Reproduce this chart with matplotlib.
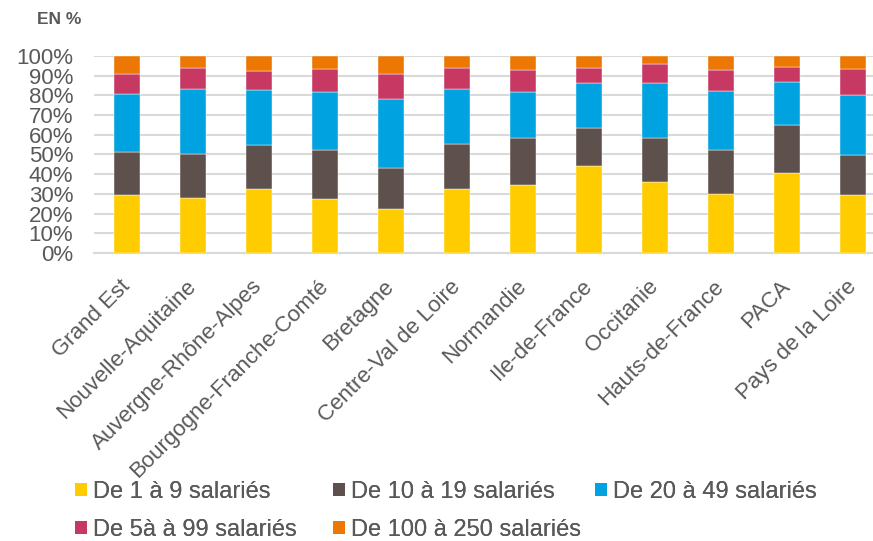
import matplotlib
matplotlib.use("Agg")
import matplotlib.pyplot as plt
from matplotlib.patches import Patch
import numpy as np

plt.rcParams['font.family'] = ['Liberation Sans', 'DejaVu Sans']

regions = ["Grand Est", "Nouvelle-Aquitaine", "Auvergne-Rhône-Alpes", "Bourgogne-Franche-Comté",
           "Bretagne", "Centre-Val de Loire", "Normandie", "Ile-de-France", "Occitanie",
           "Hauts-de-France", "PACA", "Pays de la Loire"]
series_names = ["De 1 à 9 salariés", "De 10 à 19 salariés", "De 20 à 49 salariés",
                "De 5à à 99 salariés", "De 100 à 250 salariés"]
s_1_9 = [29.4, 27.7, 32.6, 27.5, 22.3, 32.3, 34.5, 44.3, 36.1, 29.9, 40.7, 29.2]
s_10_19 = [22.1, 22.6, 22.0, 25.0, 21.1, 23.1, 23.8, 19.0, 22.5, 22.3, 24.2, 20.5]
s_20_49 = [29.1, 32.8, 28.2, 29.4, 34.6, 27.9, 23.3, 22.8, 27.5, 29.9, 21.8, 30.7]
s_50_99 = [10.4, 11.0, 9.8, 11.5, 13.0, 10.8, 11.3, 8.0, 9.7, 10.6, 7.9, 12.8]
s_100_250 = [9.0, 5.9, 7.4, 6.6, 9.0, 5.9, 7.1, 5.9, 4.2, 7.3, 5.4, 6.8]
colors = ["#FFCC00", "#5E514D", "#00A3E0", "#C73863", "#ED7703"]

W, H = 873, 541
fig = plt.figure(figsize=(W/100, H/100), dpi=100)
ax_left, ax_right = 94, 886
ax_top, ax_bot = 56, 253
ax = fig.add_axes([ax_left/W, 1-ax_bot/H, (ax_right-ax_left)/W, (ax_bot-ax_top)/H])

x = np.arange(len(regions))
bottom = np.zeros(len(regions))
data = [s_1_9, s_10_19, s_20_49, s_50_99, s_100_250]
for vals, c in zip(data, colors):
    vals = np.array(vals)
    ax.bar(x, vals, 0.4, bottom=bottom, color=c, zorder=3, edgecolor='white', linewidth=0.3)
    bottom += vals

ax.set_xlim(-0.5, len(regions)-0.5)
ax.set_ylim(0, 100)
ax.set_yticks(np.arange(0, 101, 10))
ax.set_yticklabels([f"{v}%" for v in range(0, 101, 10)], fontsize=16, color="#595959")
ax.yaxis.grid(True, color="#D9D9D9", linewidth=1.5, zorder=0)
ax.set_axisbelow(True)
for sp in ['top', 'right', 'left']:
    ax.spines[sp].set_visible(False)
ax.spines['bottom'].set_color("#D9D9D9")
ax.spines['bottom'].set_linewidth(1.5)
ax.tick_params(axis='both', length=0)
ax.tick_params(axis='y', pad=15)
ax.set_xticks(x)
ax.set_xticklabels(regions, rotation=45, ha='right', va='center', rotation_mode='anchor',
                   fontsize=16, color="#595959")
ax.tick_params(axis='x', pad=22)

fig.text(37/W, 1-19/H, "EN %", fontsize=12.5, fontweight='bold', color="#595959", va='center', ha='left')

handles = [Patch(facecolor=c, edgecolor='none') for c in colors]
columns = [([0, 3], 75), ([1, 4], 333), ([2], 595)]
for idx, xpos in columns:
    leg = fig.legend([handles[i] for i in idx], [series_names[i] for i in idx],
                     loc='upper left', bbox_to_anchor=(xpos/W, 1-481/H), ncol=1,
                     frameon=False, fontsize=17, labelcolor="#595959",
                     handlelength=0.5, handleheight=0.5, handletextpad=0.25,
                     labelspacing=0.68, borderaxespad=0, borderpad=0)
    fig.add_artist(leg)

fig.savefig("out.png", dpi=100)
